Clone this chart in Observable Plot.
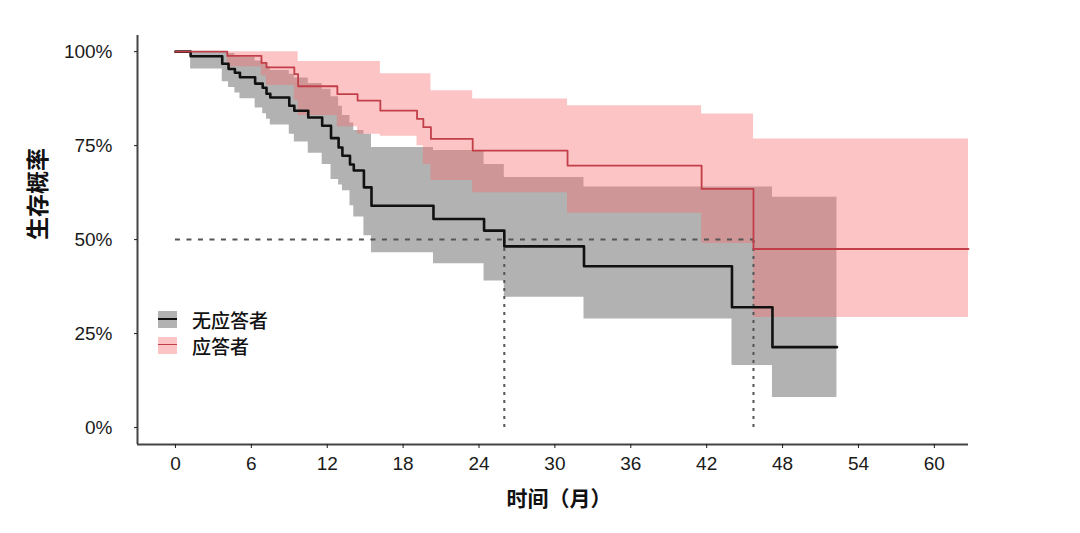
<!DOCTYPE html>
<html>
<head>
<meta charset="utf-8">
<script src="https://cdn.jsdelivr.net/npm/d3@7"></script>
<script src="https://cdn.jsdelivr.net/npm/@observablehq/plot@0.6"></script>
<style>
  body { margin: 0; background: #fff; }
  #chart { position: relative; width: 1080px; height: 533px; }
  .legend { position: absolute; left: 158px; top: 306px; font-family: "Noto Sans CJK SC", sans-serif; font-size: 19px; font-weight: 500; color: #111; }
  .legend .row { display: flex; align-items: center; height: 26px; }
  .legend .sw { width: 19px; height: 17px; position: relative; margin-right: 15px; }
  .legend .sw i { position: absolute; left: 0; right: 0; top: 7px; }
</style>
</head>
<body>
<div id="chart"></div>
<script>
// Axis ticks and titles
const xTicks = [0, 6, 12, 18, 24, 30, 36, 42, 48, 54, 60];
const yTicks = [0, 25, 50, 75, 100];
const xTitle = "时间（月）";
const yTitle = "生存概率";
const groupNames = ["无应答者", "应答者"];

// Kaplan–Meier steps, 无应答者 (months, survival %, 95% CI)
const noRespTime  = [0, 1.2, 3.7, 4.2, 4.7, 5.1, 6.3, 6.9, 7.2, 7.5, 9.0, 9.4, 10.5, 11.6, 12.3, 12.9, 13.2, 13.8, 14.1, 14.9, 15.5, 20.4, 24.4, 26.0, 32.3, 44.0, 47.2, 52.3];
const noRespSurv  = [100, 98.8, 96.8, 95.4, 94.4, 93.2, 91.5, 90.4, 88.8, 87.8, 85.6, 84.3, 82.5, 80.3, 77.0, 74.5, 72.3, 70.0, 68.4, 63.9, 59.0, 55.5, 52.4, 48.2, 42.9, 32.0, 21.4, 21.4];
const noRespUpper = [100, 100, 100, 99.5, 99, 98.5, 97.5, 97, 96, 95, 94, 93, 91.5, 90, 88, 85.5, 83, 81, 79, 78, 74.5, 73.7, 70, 66.5, 64, 64, 61.3, 61.3];
const noRespLower = [100, 95.4, 92, 90.5, 89, 87.5, 85, 83.5, 82, 80.5, 78, 76, 73, 70, 66, 64.5, 63, 59, 56, 51, 46.5, 43.6, 39, 34.7, 28.9, 16.5, 8, 8];

// Kaplan–Meier steps, 应答者
const respTime  = [0, 4.1, 6.8, 7.2, 9.4, 9.7, 12.8, 14.4, 16.2, 19.1, 19.6, 20.2, 23.5, 31.0, 41.6, 45.7, 62.7];
const respSurv  = [100, 98.9, 97.0, 95.8, 94.0, 90.8, 88.7, 87.0, 84.3, 82.1, 79.9, 76.8, 73.7, 69.7, 63.5, 47.5, 47.5];
const respUpper = [100, 100, 100, 100, 100, 97.4, 97.4, 97.4, 94.1, 94.1, 94.1, 89.6, 87.4, 85.6, 83.4, 76.8, 76.8];
const respLower = [100, 96, 93.5, 91, 87, 83, 80, 78, 77.5, 75, 70, 65.7, 62.5, 57, 49, 29.3, 29.3];

const xDomain = [-3.0, 62.7];
const yDomain = [-4.5, 104.3];

const toRows = (t, s, lo, hi) => t.map((time, i) => ({time, surv: s[i], lower: lo[i], upper: hi[i]}));
const noResp = toRows(noRespTime, noRespSurv, noRespLower, noRespUpper);
const resp = toRows(respTime, respSurv, respLower, respUpper);

// median survival: first time the curve falls to 50% or below
const median = rows => rows.find(d => d.surv <= 50).time;
const medNo = median(noResp);
const medResp = median(resp);

const grayFill = "#000", grayOpacity = 0.3;
const pinkFill = "rgb(248,107,107)", pinkOpacity = 0.4;
const blackLine = "#111", redLine = "#c23f49";

const chart = Plot.plot({
  width: 1080,
  height: 533,
  marginLeft: 137,
  marginRight: 112,
  marginTop: 35,
  marginBottom: 89,
  x: {domain: xDomain},
  y: {domain: yDomain},
  style: {fontFamily: "'Liberation Sans', Arial, sans-serif", fontSize: "19px", color: "#1a1a1a", background: "#fff"},
  marks: [
    Plot.areaY(noResp, {x: "time", y1: "lower", y2: "upper", curve: "step-after", fill: grayFill, fillOpacity: grayOpacity}),
    Plot.areaY(resp, {x: "time", y1: "lower", y2: "upper", curve: "step-after", fill: pinkFill, fillOpacity: pinkOpacity}),
    Plot.ruleY([50], {x1: 0, x2: Math.max(medNo, medResp), stroke: "#555", strokeWidth: 2, strokeDasharray: "5,6.5"}),
    Plot.ruleX([medNo, medResp], {y1: 0, y2: 50, stroke: "#555", strokeWidth: 2, strokeDasharray: "3,5"}),
    Plot.lineY(noResp, {x: "time", y: "surv", curve: "step-after", stroke: blackLine, strokeWidth: 2.6}),
    Plot.lineY(resp, {x: "time", y: "surv", curve: "step-after", stroke: redLine, strokeWidth: 1.8}),
    Plot.ruleX([xDomain[0]], {stroke: "#444", strokeWidth: 2}),
    Plot.ruleY([yDomain[0]], {stroke: "#444", strokeWidth: 2}),
    Plot.axisY({ticks: yTicks, tickFormat: d => `${d}%`, tickSize: 3, tickPadding: 22, label: null}),
    Plot.axisX({ticks: xTicks, tickSize: 4, tickPadding: 8, label: null}),
    Plot.text([yTitle], {text: d => d, frameAnchor: "left", rotate: -90, dx: -99, fontSize: 23, fontWeight: 600, fontFamily: "'Noto Sans CJK SC', sans-serif", fill: "#111"}),
    Plot.text([xTitle], {text: d => d, frameAnchor: "bottom", dx: 6, dy: 61, fontSize: 21, fontWeight: 600, fontFamily: "'Noto Sans CJK SC', sans-serif", fill: "#111"})
  ]
});

const root = document.getElementById("chart");
root.appendChild(chart);

// legend inside the plot area
const legend = document.createElement("div");
legend.className = "legend";
const legendStyles = [
  {fill: grayFill, opacity: grayOpacity, line: blackLine, lw: 2.6},
  {fill: pinkFill, opacity: pinkOpacity, line: redLine, lw: 1.8}
];
groupNames.forEach((name, i) => {
  const s = legendStyles[i];
  const row = document.createElement("div");
  row.className = "row";
  row.innerHTML = `<div class="sw"><div style="position:absolute;inset:0;background:${s.fill};opacity:${s.opacity}"></div><i style="height:${s.lw}px;background:${s.line}"></i></div><span>${name}</span>`;
  legend.appendChild(row);
});
root.appendChild(legend);
</script>
</body>
</html>
